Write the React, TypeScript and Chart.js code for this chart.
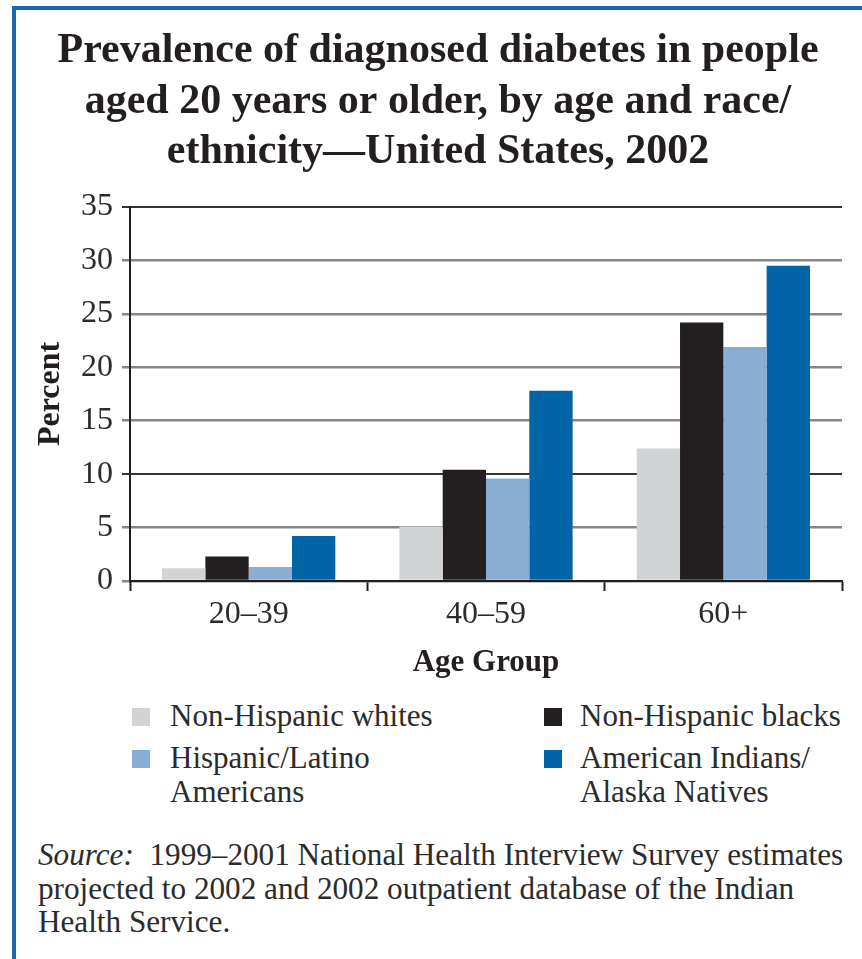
import React, { useEffect, useRef } from "react";
import { Chart, registerables } from "chart.js";

Chart.register(...registerables);

const titleLines = [
  "Prevalence of diagnosed diabetes in people",
  "aged 20 years or older, by age and race/",
  "ethnicity—United States, 2002",
];
const categories = ["20–39", "40–59", "60+"];
const seriesNames = [
  ["Non-Hispanic whites"],
  ["Non-Hispanic blacks"],
  ["Hispanic/Latino", "Americans"],
  ["American Indians/", "Alaska Natives"],
];
const seriesColors = ["#d1d3d4", "#231f20", "#8aadd3", "#0064a7"];
const nonHispanicWhites = [1.2, 5.1, 12.4];
const nonHispanicBlacks = [2.3, 10.4, 24.2];
const hispanicLatino = [1.3, 9.6, 21.9];
const americanIndians = [4.2, 17.8, 29.5];
const yMin = 0;
const yMax = 35;
const yStep = 5;
const darkGridValues = [10, 35];
const yTitle = "Percent";
const xTitle = "Age Group";
const sourceLabel = "Source:";
const sourceLines = [
  "  1999–2001 National Health Interview Survey estimates",
  "projected to 2002 and 2002 outpatient database of the Indian",
  "Health Service.",
];

const FONT = '"Liberation Serif", "Times New Roman", serif';
const INK = "#231f20";

export default function App() {
  const ref = useRef<HTMLCanvasElement>(null);

  useEffect(() => {
    const seriesValues = [nonHispanicWhites, nonHispanicBlacks, hispanicLatino, americanIndians];
    const chart = new Chart(ref.current as HTMLCanvasElement, {
      type: "bar",
      data: {
        labels: categories,
        datasets: seriesValues.map((vals, i) => ({
          label: seriesNames[i].join(" "),
          data: vals,
          backgroundColor: seriesColors[i],
          borderWidth: 0,
          categoryPercentage: 0.73,
          barPercentage: 1,
        })),
      },
      options: {
        responsive: false,
        animation: false,
        devicePixelRatio: 1,
        layout: { padding: { left: 34, right: 20, top: 0, bottom: 0 } },
        plugins: {
          legend: { display: false },
          tooltip: { enabled: false },
          title: {
            display: true,
            text: titleLines,
            color: INK,
            font: { family: FONT, size: 42, weight: "bold", lineHeight: 50.5 / 42 },
            padding: { top: 26, bottom: 29.5 },
          },
        },
        scales: {
          x: {
            z: 1,
            grid: {
              offset: true,
              drawOnChartArea: false,
              drawTicks: true,
              tickLength: 10,
              tickWidth: 2,
              tickColor: (ctx: any) => (ctx.index >= categories.length ? "rgba(0,0,0,0)" : INK),
            },
            border: { display: true, color: INK, width: 2 },
            ticks: {
              color: "#2b2b2b",
              padding: 4,
              font: { family: FONT, size: 32 },
            },
            title: {
              display: true,
              text: xTitle,
              color: INK,
              font: { family: FONT, size: 31, weight: "bold", lineHeight: 1.2 },
              padding: { top: 0, bottom: 8.4 },
            },
            afterFit: (s: any) => {
              s.height = 109;
            },
          },
          y: {
            min: yMin,
            max: yMax,
            ticks: {
              stepSize: yStep,
              color: "#2b2b2b",
              padding: 9,
              font: { family: FONT, size: 32 },
            },
            grid: {
              color: (ctx: any) =>
                ctx.tick && darkGridValues.includes(ctx.tick.value) ? "#333333" : "#878787",
              lineWidth: (ctx: any) =>
                ctx.tick && darkGridValues.includes(ctx.tick.value) ? 2 : 2.5,
              tickLength: 8,
            },
            border: { display: true, color: INK, width: 2 },
            title: {
              display: true,
              text: yTitle,
              color: INK,
              font: { family: FONT, size: 32, weight: "bold", lineHeight: 0.9 },
              padding: { top: 2, bottom: 0 },
            },
            afterFit: (s: any) => {
              s.width = 96;
            },
          },
        },
      },
    });
    return () => chart.destroy();
  }, []);

  const legendCols = [
    { marker: 132, text: 170 },
    { marker: 544, text: 580 },
  ];
  const legendRowCenters = [716, 758];
  const lineH = 33.3;

  return (
    <div
      style={{
        position: "absolute",
        left: 0,
        top: 0,
        width: 862,
        height: 959,
        overflow: "hidden",
        background: "#ffffff",
        fontFamily: FONT,
        color: "#2b2b2b",
      }}
    >
      <canvas
        ref={ref}
        width={862}
        height={690}
        style={{ position: "absolute", left: 0, top: 0, width: 862, height: 690 }}
      />
      {seriesNames.map((lines, i) => {
        const col = legendCols[i % 2];
        const c = legendRowCenters[Math.floor(i / 2)];
        return (
          <React.Fragment key={i}>
            <div
              style={{
                position: "absolute",
                left: col.marker,
                top: c - 8.5,
                width: 18,
                height: 18,
                background: seriesColors[i],
              }}
            />
            <div
              style={{
                position: "absolute",
                left: col.text,
                top: c - lineH / 2,
                fontSize: 31,
                lineHeight: lineH + "px",
                whiteSpace: "nowrap",
              }}
            >
              {lines.map((l, j) => (
                <div key={j}>{l}</div>
              ))}
            </div>
          </React.Fragment>
        );
      })}
      <div
        style={{
          position: "absolute",
          left: 38,
          top: 855 - 16.75,
          fontSize: 31.2,
          lineHeight: "33.5px",
          whiteSpace: "pre",
        }}
      >
        {sourceLines.map((l, j) => (
          <div key={j}>
            {j === 0 ? <i>{sourceLabel}</i> : null}
            {l}
          </div>
        ))}
      </div>
      <div
        style={{
          position: "absolute",
          left: 12,
          top: 6,
          right: 0,
          bottom: 0,
          borderTop: "4px solid #1b67b0",
          borderLeft: "4px solid #1b67b0",
          pointerEvents: "none",
        }}
      />
    </div>
  );
}
